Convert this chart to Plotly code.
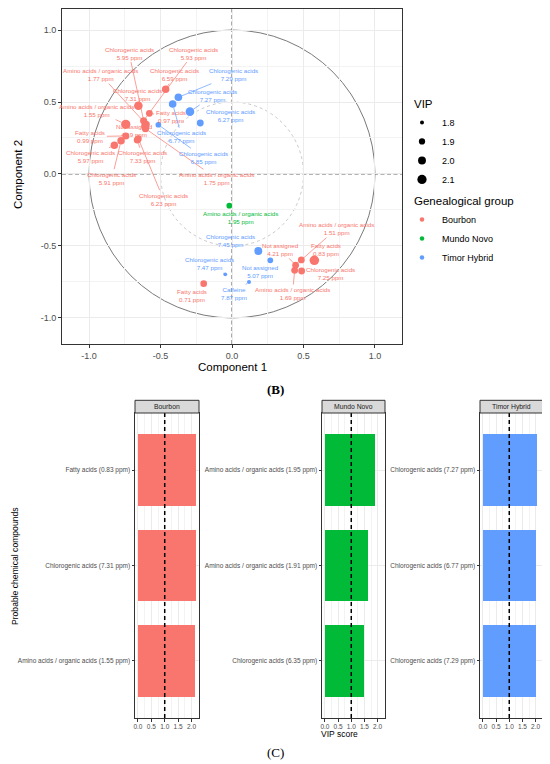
import plotly.graph_objects as go

# PLS-DA loadings: component 1 / component 2, VIP and the ppm signal
compound = [
    "Chlorogenic acids", "Chlorogenic acids", "Amino acids / organic acids", "Chlorogenic acids",
    "Chlorogenic acids", "Amino acids / organic acids", "Fatty acids", "Not assigned",
    "Fatty acids", "Chlorogenic acids", "Chlorogenic acids", "Chlorogenic acids",
    "Amino acids / organic acids", "Chlorogenic acids",
    "Not assigned", "Amino acids / organic acids", "Fatty acids", "Chlorogenic acids",
    "Amino acids / organic acids", "Fatty acids",
    "Amino acids / organic acids",
    "Chlorogenic acids", "Chlorogenic acids", "Chlorogenic acids", "Chlorogenic acids", "Chlorogenic acids",
    "Chlorogenic acids", "Not assigned", "Chlorogenic acids", "Caffeine",
]
ppm = [
    5.95, 5.93, 1.77, 6.59, 7.31, 1.55, 0.97, 4.19, 0.99, 5.97, 7.33, 5.91, 1.75, 6.23,
    4.21, 1.51, 0.83, 7.25, 1.69, 0.71,
    1.95,
    7.29, 6.77, 7.27, 6.27, 6.85,
    7.45, 5.07, 7.47, 7.87,
]
group = ["Bourbon"] * 20 + ["Mundo Novo"] + ["Timor Hybrid"] * 9
comp1 = [
    -0.610, -0.618, -0.600, -0.464, -0.655, -0.743, -0.578, -0.608, -0.743, -0.823, -0.662, -0.776, -0.605, -0.655,
    0.445, 0.485, 0.576, 0.487, 0.438, -0.198,
    -0.019,
    -0.375, -0.415, -0.294, -0.222, -0.515,
    0.184, 0.268, -0.047, 0.119,
]
comp2 = [
    0.335, 0.370, 0.345, 0.588, 0.474, 0.345, 0.421, 0.325, 0.264, 0.200, 0.236, 0.231, 0.315, 0.245,
    -0.634, -0.597, -0.600, -0.674, -0.669, -0.762,
    -0.220,
    0.533, 0.486, 0.433, 0.354, 0.342,
    -0.535, -0.600, -0.697, -0.750,
]
vip = [
    1.95, 1.95, 1.95, 1.97, 2.05, 2.10, 1.93, 1.95, 1.95, 1.97, 1.95, 1.97, 1.95, 1.93,
    1.93, 1.93, 2.12, 1.93, 1.93, 1.92,
    1.87,
    1.98, 1.98, 2.05, 1.93, 1.87,
    2.00, 1.87, 1.79, 1.80,
]

# where the repelled labels sit (data units)
label_x = [
    -0.72, -0.27, -0.92, -0.40, -0.66, -0.95, -0.43, -0.68, -0.99, -0.99, -0.625, -0.84, -0.11, -0.48,
    0.34, 0.732, 0.655, 0.69, 0.424, -0.282,
    0.056,
    0.009, -0.352, -0.135, -0.014, -0.20,
    -0.014, 0.196, -0.159, 0.012,
]
label_y = [
    0.84, 0.84, 0.69, 0.69, 0.55, 0.44, 0.40, 0.30, 0.26, 0.12, 0.12, -0.03, -0.03, -0.175,
    -0.523, -0.38, -0.525, -0.69, -0.83, -0.843,
    -0.30,
    0.69, 0.259, 0.542, 0.403, 0.116,
    -0.463, -0.68, -0.625, -0.83,
]

groups = ["Bourbon", "Mundo Novo", "Timor Hybrid"]
colors = {"Bourbon": "#F8766D", "Mundo Novo": "#00BA38", "Timor Hybrid": "#619CFF"}

# top-3 VIP per group
bourbon_labels = ["Fatty acids (0.83 ppm)", "Chlorogenic acids (7.31 ppm)", "Amino acids / organic acids (1.55 ppm)"]
bourbon_vip = [2.16, 2.16, 2.14]
mundo_labels = ["Amino acids / organic acids (1.95 ppm)", "Amino acids / organic acids (1.91 ppm)", "Chlorogenic acids (6.35 ppm)"]
mundo_vip = [1.91, 1.62, 1.50]
timor_labels = ["Chlorogenic acids (7.27 ppm)", "Chlorogenic acids (6.77 ppm)", "Chlorogenic acids (7.29 ppm)"]
timor_vip = [2.05, 2.03, 2.03]

loading_ticks = [-1.0, -0.5, 0.0, 0.5, 1.0]
vip_ticks = [0.0, 0.5, 1.0, 1.5, 2.0]
vip_breaks = [1.8, 1.9, 2.0, 2.1]

# the page body keeps its 8px margin, so the figure starts at (8, 8) in the window
W, H, OFF = 550, 764, 8
FONT = "Liberation Sans, Arial, sans-serif"
TICK = "#4D4D4D"
FRAME = "#333333"
GRID = "#EBEBEB"


def fx(p):
    return (p - OFF) / (W - OFF)


def fy(p):
    return 1 - (p - OFF) / (H - OFF)


def dot(v):
    # area grows linearly with VIP, like scale_size
    return (16 + (v - 1.8) * 233) ** 0.5


fig = go.Figure()

for g in groups:
    idx = [i for i, gg in enumerate(group) if gg == g]
    fig.add_trace(go.Scatter(
        x=[comp1[i] for i in idx], y=[comp2[i] for i in idx], mode="markers",
        marker=dict(color=colors[g], size=[dot(vip[i]) for i in idx], line=dict(width=0), opacity=1),
        showlegend=False, hoverinfo="skip", xaxis="x", yaxis="y"))

for i in range(len(comp1)):
    c = colors[group[i]]
    fig.add_annotation(
        x=comp1[i], y=comp2[i], ax=label_x[i], ay=label_y[i],
        xref="x", yref="y", axref="x", ayref="y",
        text=f"{compound[i]}<br>{ppm[i]:.2f} ppm",
        showarrow=True, arrowhead=0, arrowwidth=0.7, arrowcolor=c, standoff=dot(vip[i]) / 2,
        font=dict(size=6.2, color=c, family=FONT))

# legend entries: VIP sizes and groups
for b in vip_breaks:
    fig.add_trace(go.Scatter(x=[None], y=[None], mode="markers", name=f"{b:.1f}",
                             marker=dict(color="black", size=dot(b)), legend="legend",
                             xaxis="x", yaxis="y"))
for g in groups:
    fig.add_trace(go.Scatter(x=[None], y=[None], mode="markers", name=g,
                             marker=dict(color=colors[g], size=4.5), legend="legend2",
                             xaxis="x", yaxis="y"))

panels = [
    ("Bourbon", bourbon_labels, bourbon_vip, "2", 135, 199),
    ("Mundo Novo", mundo_labels, mundo_vip, "3", 322, 385),
    ("Timor Hybrid", timor_labels, timor_vip, "4", 480, 543),
]
bar_top, bar_bot = 413, 718
strip_h = 12.7

for name, labels, vals, n, x0, x1 in panels:
    fig.add_trace(go.Bar(x=vals, y=labels, orientation="h", width=0.75,
                         marker=dict(color=colors[name], line=dict(width=0)),
                         showlegend=False, hoverinfo="skip", xaxis="x" + n, yaxis="y" + n))
    fig.update_layout(**{
        "xaxis" + n: dict(domain=[fx(x0), fx(x1)], anchor="y" + n, range=[-0.11, 2.28],
                          tickvals=vip_ticks, ticktext=[f"{t:.1f}" for t in vip_ticks],
                          tickfont=dict(size=6.5, color=TICK), ticks="outside", ticklen=2.5,
                          tickcolor=FRAME, tickwidth=0.8,
                          showgrid=True, gridcolor=GRID, gridwidth=0.8,
                          minor=dict(dtick=0.25, tick0=0, showgrid=True, gridcolor="#F3F3F3", gridwidth=0.5),
                          showline=True, mirror=True, linecolor=FRAME, linewidth=1, zeroline=False),
        "yaxis" + n: dict(domain=[fy(bar_bot), fy(bar_top)], anchor="x" + n, type="category",
                          categoryorder="array", categoryarray=labels, range=[2.6, -0.6],
                          tickfont=dict(size=6.5, color=TICK), ticks="outside", ticklen=2.5,
                          tickcolor=FRAME, tickwidth=0.8,
                          showgrid=True, gridcolor=GRID, gridwidth=0.8,
                          showline=True, mirror=True, linecolor=FRAME, linewidth=1, zeroline=False),
    })
    fig.add_shape(type="line", xref="x" + n, yref="y" + n + " domain", x0=1, x1=1, y0=0, y1=1,
                  line=dict(color="black", width=1.5, dash="4px,3px"))
    fig.add_shape(type="rect", xref="x" + n + " domain", yref="y" + n + " domain",
                  x0=0, x1=1, y0=1, y1=1 + strip_h / (bar_bot - bar_top),
                  fillcolor="#D9D9D9", line=dict(color=FRAME, width=1))
    fig.add_annotation(x=0.5, y=1 + strip_h / 2 / (bar_bot - bar_top), xref="x" + n + " domain",
                       yref="y" + n + " domain", text=name, showarrow=False,
                       xanchor="center", yanchor="middle",
                       font=dict(size=6.8, color="#1A1A1A", family=FONT))

# circles and reference lines of the loading plot
fig.add_shape(type="circle", xref="x", yref="y", x0=-1, y0=-1, x1=1, y1=1,
              line=dict(color="#7A7A7A", width=1), layer="below")
fig.add_shape(type="circle", xref="x", yref="y", x0=-0.5, y0=-0.5, x1=0.5, y1=0.5,
              line=dict(color="#C8C8C8", width=1, dash="dot"), layer="below")
fig.add_shape(type="line", xref="x", yref="y domain", x0=0, x1=0, y0=0, y1=1,
              line=dict(color="#666666", width=1.1, dash="4px,2.5px"), layer="below")
fig.add_shape(type="line", xref="x domain", yref="y", x0=0, x1=1, y0=0, y1=0,
              line=dict(color="#666666", width=1.1, dash="4px,2.5px"), layer="below")

top_axis = dict(tickvals=loading_ticks, ticktext=[f"{t:.1f}" for t in loading_ticks],
                tickfont=dict(size=9, color=TICK), ticks="outside", ticklen=3, tickcolor=FRAME,
                showgrid=True, gridcolor=GRID, gridwidth=1,
                minor=dict(dtick=0.25, tick0=0, showgrid=True, gridcolor="#F3F3F3", gridwidth=0.6),
                showline=True, mirror=True, linecolor=FRAME, linewidth=1, zeroline=False)

fig.update_layout(
    width=W - OFF, height=H - OFF, margin=dict(l=0, r=0, t=0, b=0, autoexpand=False),
    paper_bgcolor="white", plot_bgcolor="white",
    font=dict(family=FONT, color="black"),
    xaxis=dict(domain=[fx(62), fx(402)], anchor="y", range=[-1.189, 1.189], **top_axis),
    yaxis=dict(domain=[fy(344), fy(OFF + 1)], anchor="x", range=[-1.181, 1.146], **top_axis),
    legend=dict(title=dict(text="VIP", font=dict(size=11.5)), x=fx(412), y=fy(93),
                xanchor="left", yanchor="top", font=dict(size=9), indentation=-10,
                itemsizing="trace", bgcolor="rgba(0,0,0,0)", traceorder="normal"),
    legend2=dict(title=dict(text="Genealogical group", font=dict(size=11.5)), x=fx(412), y=fy(190),
                 xanchor="left", yanchor="top", font=dict(size=9), indentation=-10,
                 itemsizing="trace", bgcolor="rgba(0,0,0,0)", traceorder="normal"),
    bargap=0,
)
fig.update_xaxes(automargin=False)
fig.update_yaxes(automargin=False)

texts = [
    ("Component 1", 232, 367, 11.5, 0, "normal", FONT),
    ("Component 2", 18, 175, 11.5, -90, "normal", FONT),
    ("(B)", 275.5, 389, 13, 0, "bold", "Liberation Serif, Times New Roman, serif"),
    ("Probable chemical compounds", 15, 566, 8.6, -90, "normal", FONT),
    ("VIP score", 339, 734, 8.5, 0, "normal", FONT),
    ("(C)", 275, 752, 13, 0, "normal", "Liberation Serif, Times New Roman, serif"),
]
for t, x, y, s, rot, w, fam in texts:
    fig.add_annotation(x=fx(x), y=fy(y), xref="paper", yref="paper", text=t, showarrow=False,
                       xanchor="center", yanchor="middle",
                       textangle=rot, font=dict(size=s, color="black", family=fam, weight=w))

fig.write_html("out.html")
